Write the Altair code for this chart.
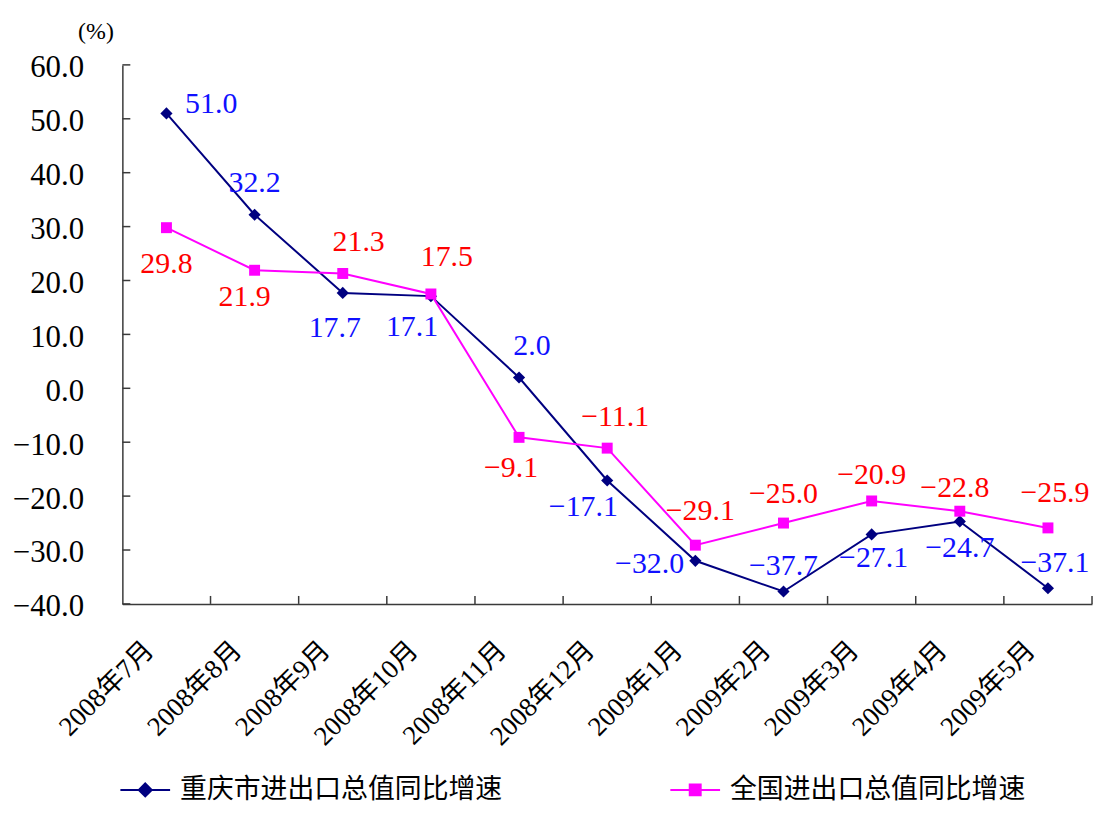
import altair as alt
import pandas as pd

months = ["2008年7月", "2008年8月", "2008年9月", "2008年10月", "2008年11月", "2008年12月",
          "2009年1月", "2009年2月", "2009年3月", "2009年4月", "2009年5月"]
cq_values = [51.0, 32.2, 17.7, 17.1, 2.0, -17.1, -32.0, -37.7, -27.1, -24.7, -37.1]
cn_values = [29.8, 21.9, 21.3, 17.5, -9.1, -11.1, -29.1, -25.0, -20.9, -22.8, -25.9]
series_names = ["重庆市进出口总值同比增速", "全国进出口总值同比增速"]
y_ticks = [-40, -30, -20, -10, 0, 10, 20, 30, 40, 50, 60]

# label placement offsets (pixels) relative to each point
cq_dx = [45, 0, -8, -19, 13, -24, -46, 0, 2, 0, 7]
cq_dy = [-9, -32, 35, 31, -32, 27, 3, -26, 24, 27, -25]
cn_dx = [0, -10, 16, 16, -8, 8, 5, 0, 0, -5, 7]
cn_dy = [37, 27, -32, -37, 31, -31, -34, -29, -26, -23, -35]

line_colors = ["#000080", "#FF00FF"]
label_colors = ["#1010FF", "#FF0000"]
legend_paths = [
    "M-1,0L1,0M0,-0.26L0.26,0L0,0.26L-0.26,0Z",
    "M-1,0L1,0M-0.22,-0.22L0.22,-0.22L0.22,0.22L-0.22,0.22Z",
]

df = pd.DataFrame({
    "month": months * 2,
    "value": cq_values + cn_values,
    "series": [series_names[0]] * len(months) + [series_names[1]] * len(months),
    "idx": list(range(len(months))) * 2,
})
tick_df = pd.DataFrame({"value": y_ticks})

NUM_FONT = "Liberation Serif"
MIX_FONT = "Liberation Serif, Noto Sans CJK SC"
AXIS_COLOR = "#3a3a3a"

x_scale = alt.Scale(domain=months, paddingInner=0, paddingOuter=0)
y_scale = alt.Scale(domain=[-40, 60], nice=False, zero=False)

x_axis = alt.Axis(
    title=None, labelAngle=-45, labelAlign="right", labelBaseline="middle",
    labelPadding=42, labelOffset=-17, labelFont=MIX_FONT, labelFontSize=27,
    labelColor="black", ticks=False, tickSize=0, grid=False, labelOverlap=False,
    domainColor=AXIS_COLOR, domainWidth=1.5, labelLimit=300,
)
y_axis = alt.Axis(
    values=y_ticks, format=".1f", title="(%)", titleAngle=0, titleX=-27, titleY=-34,
    titleAlign="center", titleBaseline="middle", titleFont=NUM_FONT, titleFontSize=24,
    titleFontWeight="normal", titleColor="black",
    labelFont=NUM_FONT, labelFontSize=31, labelColor="black", labelPadding=39,
    labelOffset=3, labelFlush=False, ticks=False, tickSize=0, grid=False,
    domainColor=AXIS_COLOR, domainWidth=1.5,
)

x_enc = alt.X("month:N", sort=months, scale=x_scale, axis=x_axis)
x_edge = alt.X("month:N", sort=months, scale=x_scale, axis=x_axis, bandPosition=1)
y_enc = alt.Y("value:Q", scale=y_scale, axis=y_axis)

layers = []

# inward x ticks at band boundaries
layers.append(
    alt.Chart(df).transform_filter(alt.datum.series == series_names[0])
    .mark_rule(color=AXIS_COLOR, strokeWidth=1.5)
    .encode(x=x_edge, y=alt.value(534), y2=alt.value(542))
)
# inward y ticks
layers.append(
    alt.Chart(tick_df).mark_rule(color=AXIS_COLOR, strokeWidth=1.5)
    .encode(y=y_enc, x=alt.value(0), x2=alt.value(8))
)

for s, name in enumerate(series_names):
    sub = alt.Chart(df).transform_filter(alt.datum.series == name)
    layers.append(sub.mark_line(color=line_colors[s], strokeWidth=2).encode(x=x_enc, y=y_enc))
    if s == 0:
        layers.append(sub.mark_point(shape="diamond", filled=True, size=150, opacity=1,
                                     color=line_colors[s]).encode(x=x_enc, y=y_enc))
    else:
        layers.append(sub.mark_point(shape="square", filled=True, size=121, opacity=1,
                                     color=line_colors[s]).encode(x=x_enc, y=y_enc))

for s, name in enumerate(series_names):
    dxs = cq_dx if s == 0 else cn_dx
    dys = cq_dy if s == 0 else cn_dy
    for i in range(len(months)):
        layers.append(
            alt.Chart(df)
            .transform_filter((alt.datum.series == name) & (alt.datum.idx == i))
            .mark_text(dx=dxs[i], dy=dys[i], font=NUM_FONT, fontSize=30,
                       color=label_colors[s], align="center", baseline="middle")
            .encode(x=x_enc, y=y_enc, text=alt.Text("value:Q", format=".1f"))
        )

legend = alt.Legend(
    orient="none", legendX=-3, legendY=703, direction="horizontal", title=None,
    symbolSize=2500, symbolStrokeWidth=2, labelFont="Noto Sans CJK SC", labelFontSize=27,
    labelColor="black", labelLimit=500, labelOffset=9, columnPadding=165, padding=0,
)
layers.append(
    alt.Chart(df).transform_filter("false")
    .mark_point(filled=True, opacity=1)
    .encode(
        color=alt.Color("series:N", scale=alt.Scale(domain=series_names, range=line_colors), legend=legend),
        stroke=alt.Stroke("series:N", scale=alt.Scale(domain=series_names, range=line_colors), legend=legend),
        shape=alt.Shape("series:N", scale=alt.Scale(domain=series_names, range=legend_paths), legend=legend),
    )
)

chart = (
    alt.layer(*layers)
    .properties(
        width=975, height=542,
        padding={"left": 115, "top": 55, "right": 4, "bottom": 201},
        autosize=alt.AutoSizeParams(type="none"),
        background="white",
    )
    .configure_view(stroke="transparent")
)

chart.save("out.html", embed_options={"renderer": "svg", "actions": False})
